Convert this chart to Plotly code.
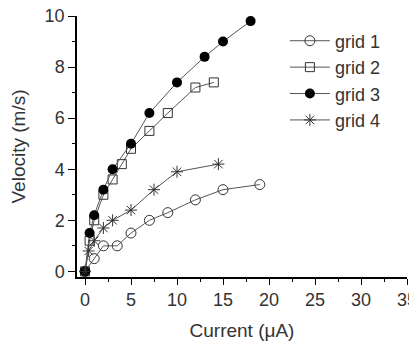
import plotly.graph_objects as go

g1_x = [0, 1, 2, 3.5, 5, 7, 9, 12, 15, 19]
g1_y = [0, 0.5, 1.0, 1.0, 1.5, 2.0, 2.3, 2.8, 3.2, 3.4]
g2_x = [0, 0.5, 1, 2, 3, 4, 5, 7, 9, 12, 14]
g2_y = [0, 1.2, 2.0, 3.0, 3.6, 4.2, 4.8, 5.5, 6.2, 7.2, 7.4]
g3_x = [0, 0.5, 1, 2, 3, 5, 7, 10, 13, 15, 18]
g3_y = [0, 1.5, 2.2, 3.2, 4.0, 5.0, 6.2, 7.4, 8.4, 9.0, 9.8]
g4_x = [0, 0.4, 1, 2, 3, 5, 7.5, 10, 14.5]
g4_y = [0, 0.8, 1.2, 1.7, 2.0, 2.4, 3.2, 3.9, 4.2]
names = ["grid 1", "grid 2", "grid 3", "grid 4"]

line = dict(color="#555555", width=1)
fig = go.Figure()
fig.add_trace(go.Scatter(x=g1_x, y=g1_y, name=names[0], mode="lines+markers", line=line,
                         marker=dict(symbol="circle-open", size=10, color="#333333", line=dict(width=1))))
fig.add_trace(go.Scatter(x=g2_x, y=g2_y, name=names[1], mode="lines+markers", line=line,
                         marker=dict(symbol="square-open", size=9, color="#333333", line=dict(width=1))))
fig.add_trace(go.Scatter(x=g3_x, y=g3_y, name=names[2], mode="lines+markers", line=line,
                         marker=dict(symbol="circle", size=10, color="#000000")))
fig.add_trace(go.Scatter(x=g4_x, y=g4_y, name=names[3], mode="lines+markers", line=line,
                         marker=dict(symbol="asterisk-open", size=10, color="#333333", line=dict(width=1))))

fig.update_layout(
    width=409, height=335,
    margin=dict(l=69, r=10, t=8, b=66),
    paper_bgcolor="white", plot_bgcolor="white",
    font=dict(family="Liberation Sans, Arial, sans-serif", size=18, color="#333333"),
    showlegend=True,
    legend=dict(x=0.63, y=0.975, xanchor="left", yanchor="top", bgcolor="rgba(0,0,0,0)",
                font=dict(size=18, color="#333333"), tracegroupgap=0, itemwidth=40),
    xaxis=dict(range=[-0.87, 35], tickvals=[0, 5, 10, 15, 20, 25, 30, 35], showgrid=False, zeroline=False,
               automargin=False, ticklabeloverflow="allow",
               showline=True, linecolor="black", linewidth=1.5, ticks="outside", ticklen=6,
               tickcolor="black", tickwidth=1.2, tickfont=dict(size=18),
               minor=dict(tickvals=[2.5, 7.5, 12.5, 17.5, 22.5, 27.5, 32.5], ticks="outside", ticklen=3, tickcolor="black"),
               title=dict(text="Current (\u03bcA)", font=dict(size=19), standoff=14)),
    yaxis=dict(range=[-0.22, 10.0], tickvals=[0, 2, 4, 6, 8, 10], showgrid=False, zeroline=False,
               automargin=False, ticklabeloverflow="allow",
               showline=True, linecolor="black", linewidth=1.5, ticks="outside", ticklen=7,
               tickcolor="black", tickwidth=1.2, tickfont=dict(size=18),
               minor=dict(tickvals=[1, 3, 5, 7, 9], ticks="outside", ticklen=3, tickcolor="black"),
               title=dict(text="Velocity (m/s)", font=dict(size=19), standoff=16)),
)

fig.write_html("out.html")
